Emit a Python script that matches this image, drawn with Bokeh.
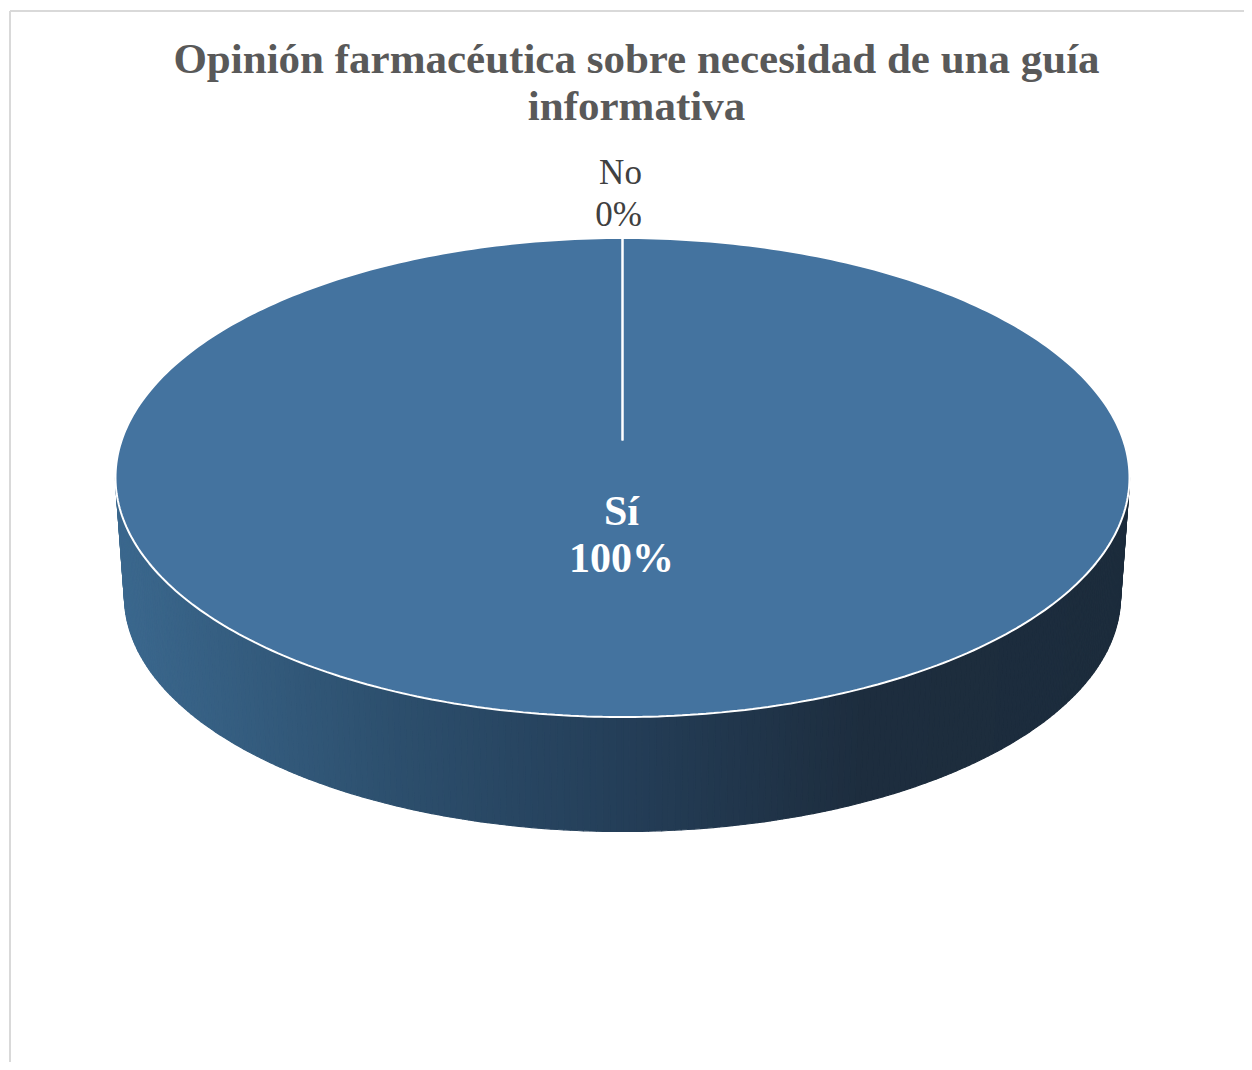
import numpy as np
from bokeh.plotting import figure
from bokeh.models import Range1d
from bokeh.core.properties import value
from bokeh.embed import file_html
from bokeh.resources import INLINE

# ---- data ----
title_lines = ["Opinión farmacéutica sobre necesidad de una guía", "informativa"]
categories = ["Sí", "No"]
values = [100, 0]
top_color = "#44739f"

W, H = 1244, 1062
OFF = 8
p = figure(width=W, height=H, output_backend="svg", toolbar_location=None,
           x_range=Range1d(-OFF, W - OFF), y_range=Range1d(H - OFF, -OFF), min_border=0)
p.axis.visible = False
p.grid.visible = False
p.outline_line_color = None
p.background_fill_color = "white"
p.border_fill_color = "white"

# chart-area border (left and top visible)
p.segment(x0=[1.5, 1.5], y0=[2.5, 2.5], x1=[1.5, W + 5], y1=[H + 5, 2.5],
          line_color="#d9d9d9", line_width=2)

# title
p.text(x=[628, 628], y=[50, 97], text=title_lines, text_font=value("Liberation Serif"),
       text_font_style="bold", text_font_size="43px", text_color="#595959",
       text_align="center", text_baseline="middle")

# pie geometry
cx, cy1, a1, b1 = 614.0, 469.0, 507.0, 239.5   # top face ellipse
cy2, a2, b2 = 588.0, 498.0, 235.0              # bottom ellipse
pcy = 432.0                                    # perspective pie center

# side wall: vertical-gradient strips
def side_color(x):
    stops_x = [cx - a1, cx - 220, cx, cx + 240, cx + a1]
    stops_c = [(59, 104, 142), (44, 78, 108), (36, 62, 88), (29, 45, 62), (28, 44, 60)]
    c = [np.interp(x, stops_x, [s[k] for s in stops_c]) for k in range(3)]
    return "#%02x%02x%02x" % tuple(int(round(v)) for v in c)

n = 240
th = np.linspace(0, np.pi, n + 1)
xs, ys, cols = [], [], []
for i in range(n):
    t0, t1 = th[i], th[i + 1]
    qx = [cx + a1 * np.cos(t0), cx + a1 * np.cos(t1), cx + a2 * np.cos(t1), cx + a2 * np.cos(t0)]
    qy = [cy1 + b1 * np.sin(t0), cy1 + b1 * np.sin(t1), cy2 + b2 * np.sin(t1), cy2 + b2 * np.sin(t0)]
    xs.append(qx)
    ys.append(qy)
    cols.append(side_color(np.mean(qx)))
p.patches(xs=xs, ys=ys, fill_color=cols, line_color=cols, line_width=1.2)

# top face: slices from values (clockwise from 12 o'clock)
total = float(sum(values))
fr = np.array(values) / total
starts = np.concatenate([[0], np.cumsum(fr)[:-1]]) * 2 * np.pi
ends = np.cumsum(fr) * 2 * np.pi

def ell_pt(phi):
    return cx + a1 * np.sin(phi), cy1 - b1 * np.cos(phi)

for s, e, f in zip(starts, ends, fr):
    if f <= 0:
        continue
    ph = np.linspace(s, e, 400)
    ex, ey = ell_pt(ph)
    if f < 1:
        ex = np.concatenate([[cx], ex])
        ey = np.concatenate([[pcy], ey])
    p.patch(x=list(ex), y=list(ey), fill_color=top_color, line_color="white", line_width=2)

# slice boundary lines
bx0, by0, bx1, by1 = [], [], [], []
for s in sorted(set(np.round(starts, 9))):
    x1, y1 = ell_pt(s)
    bx0.append(cx); by0.append(pcy); bx1.append(x1); by1.append(y1)
p.segment(x0=bx0, y0=by0, x1=bx1, y1=by1, line_color="white", line_width=2)

# labels
for cat, v, f, s, e in zip(categories, values, fr, starts, ends):
    pct = f"{int(round(v / total * 100))}%"
    if f >= 0.5:
        p.text(x=[cx - 1, cx - 1], y=[502, 549], text=[cat, pct],
               text_font=value("Liberation Serif"), text_font_style="bold",
               text_font_size="42px", text_color="white",
               text_align="center", text_baseline="middle")
    else:
        mid = (s + e) / 2
        lx, ly = ell_pt(mid)
        p.text(x=[lx - 2, lx - 4], y=[ly - 66, ly - 24], text=[cat, pct],
               text_font=value("Liberation Serif"), text_font_size="35px",
               text_color="#404040", text_align="center", text_baseline="middle")

open("out.html", "w").write(file_html(p, INLINE))
